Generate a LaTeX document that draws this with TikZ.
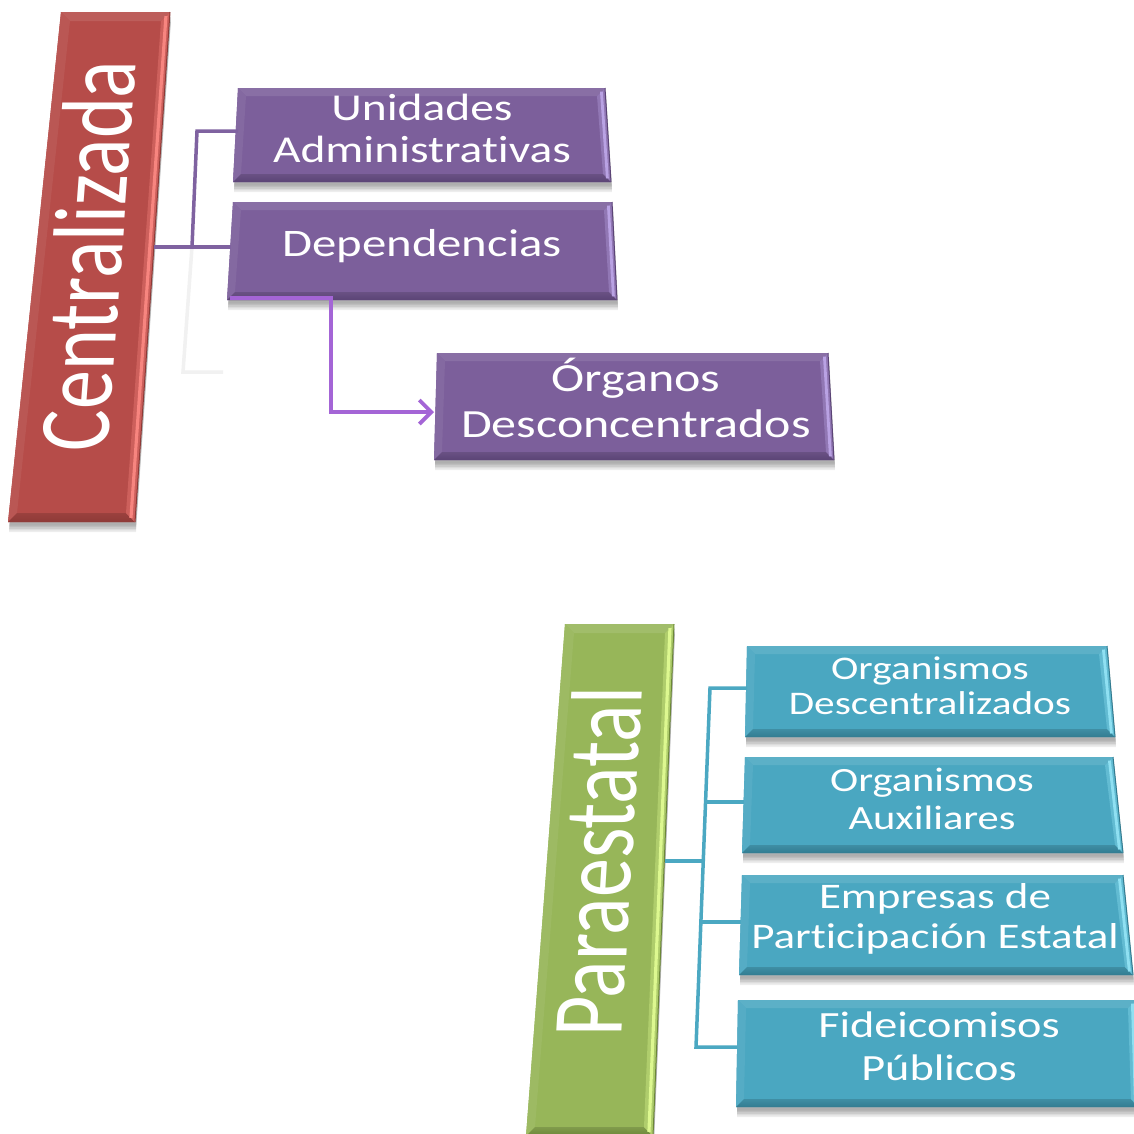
\documentclass[tikz,border=0pt]{standalone}
\usepackage{fontspec}
\usepackage{graphicx}
\setmainfont[Ligatures=NoCommon]{Carlito}
\newfontfamily\widefont[FakeStretch=1.25,Ligatures=NoCommon]{Carlito}
\usetikzlibrary{calc,arrows.meta}
\definecolor{redbase}{HTML}{B64C49}
\definecolor{redlight}{HTML}{F7857F}
\definecolor{reddark}{HTML}{8E3A37}
\definecolor{purbase}{HTML}{7C5F9B}
\definecolor{purlight}{HTML}{B9A2E3}
\definecolor{purdark}{HTML}{5B4476}
\definecolor{tealbase}{HTML}{4AA7C1}
\definecolor{teallight}{HTML}{8FE0F2}
\definecolor{tealdark}{HTML}{327C91}
\definecolor{grnbase}{HTML}{97B659}
\definecolor{grnlight}{HTML}{DDF890}
\definecolor{grndark}{HTML}{6C8838}
\definecolor{purline}{HTML}{7F62A0}
\definecolor{arrowcol}{HTML}{A465D6}
\definecolor{tealline}{HTML}{4BA8C2}
\definecolor{ghostcol}{HTML}{F1F1F1}
\newcommand{\bevelbox}[9]{%
 \coordinate (#1tl) at (#2);
 \coordinate (#1tr) at (#3);
 \coordinate (#1br) at (#4);
 \coordinate (#1bl) at (#5);
 \coordinate (#1itl) at ($(#1tl)+(#9,#9)$);
 \coordinate (#1itr) at ($(#1tr)+(-#9,#9)$);
 \coordinate (#1ibr) at ($(#1br)+(-#9,-#9)$);
 \coordinate (#1ibl) at ($(#1bl)+(#9,-#9)$);
 \foreach \k in {1,2,3,4,5}{%
   \fill[black,opacity=0.07] ($(#1tl)+(1,2+1.6*\k)$) -- ($(#1tr)+(1,2+1.6*\k)$) -- ($(#1br)+(1,2+1.6*\k)$) -- ($(#1bl)+(1,2+1.6*\k)$) -- cycle;}
 \fill[#6] (#1tl) -- (#1tr) -- (#1br) -- (#1bl) -- cycle;
 \fill[#6!90!white] (#1tl) -- (#1tr) -- (#1itr) -- (#1itl) -- cycle;
 \fill[#6!94!white] (#1tl) -- (#1itl) -- (#1ibl) -- (#1bl) -- cycle;
 \shade[top color=#6!85!black, bottom color=#8] (#1ibl) -- (#1ibr) -- (#1br) -- (#1bl) -- cycle;
 \fill[#6!65!#7] (#1itr) -- (#1tr) -- (#1br) -- (#1ibr) -- cycle;
 \draw[#7, line width=0.35*#9] ($(#1tr)!0.45!(#1itr)$) -- ($(#1br)!0.45!(#1ibr)$);
 \draw[#8, line width=1] (#1tr) -- (#1br);
}
\tikzset{
  rottext/.style={text=white, inner sep=0pt, anchor=base},
  boxtext/.style={text=white, inner sep=0pt, align=center},
  purconn/.style={draw=purline, line width=3.5pt},
  ghostconn/.style={draw=ghostcol, line width=3.5pt},
  arrowconn/.style={draw=arrowcol, line width=3.8pt, -{Straight Barb[length=12pt,width=24pt]}},
  tealconn/.style={draw=tealline, line width=3.5pt}
}
\begin{document}
\begin{tikzpicture}[x=1pt,y=-1pt, line join=miter]
\useasboundingbox (0,0) rectangle (1134,1133);
\fill[white] (0,0) rectangle (1134,1133);

% connectors (upper group)
\coordinate (cene) at (154,247);
\coordinate (depw) at (231,247);
\coordinate (uniw) at (238,131);
\coordinate (ja) at (197,131);
\coordinate (jb) at (192,247);
\coordinate (gc) at (183,372);
\coordinate (gd) at (223,372);
\draw[ghostconn] (jb) -- (gc) -- (gd);

% boxes upper
\bevelbox{cen}{61,12}{170,12}{135,522}{8,522}{redbase}{redlight}{reddark}{9}
\bevelbox{uni}{238,88}{605,88}{611,182}{233,182}{purbase}{purlight}{purdark}{8}
\bevelbox{dep}{233,202}{612,202}{617,300}{227,300}{purbase}{purlight}{purdark}{8}
\bevelbox{org}{437,353}{828,353}{834,460}{434,460}{purbase}{purlight}{purdark}{8}

\draw[purconn] (cene) -- (depw);
\draw[purconn] (uniw) -- (ja) -- (jb);
\coordinate (aa) at (230,298);
\coordinate (ab) at (331,298);
\coordinate (ac) at (331,412);
\coordinate (orgw) at (434,412);
\draw[arrowconn] (aa) -- (ab) -- (ac) -- (orgw);

% lower group
\bevelbox{par}{565,624}{674,624}{653,1136}{526,1136}{grnbase}{grnlight}{grndark}{9}
\bevelbox{ba}{747,646}{1107,646}{1115,737}{745,737}{tealbase}{teallight}{tealdark}{8}
\bevelbox{bb}{745,757}{1113,757}{1123,853}{742,853}{tealbase}{teallight}{tealdark}{8}
\bevelbox{bc}{742,875}{1123,875}{1133,975}{739,975}{tealbase}{teallight}{tealdark}{8}
\bevelbox{bd}{738,1000}{1136,1000}{1139,1107}{736,1107}{tealbase}{teallight}{tealdark}{8}

\coordinate (pare) at (665,861);
\coordinate (vp) at (703,861);
\coordinate (va) at (710,688);
\coordinate (vb) at (705.6,802);
\coordinate (vc) at (700.9,922);
\coordinate (vd) at (696,1047);
\coordinate (baw) at (747,688);
\coordinate (bbw) at (744,802);
\coordinate (bcw) at (741,922);
\coordinate (bdw) at (737,1047);
\draw[tealconn] (baw) -- (va) -- (vd) -- (bdw);
\draw[tealconn] (vb) -- (bbw);
\draw[tealconn] (vc) -- (bcw);
\draw[tealconn] (pare) -- (vp);

% texts
\node[rottext, xslant=0.075, rotate=90] (centxt) at (122,256) {\scalebox{1}[1.3]{\fontsize{78}{80}\selectfont Centralizada}};
\node[rottext, xslant=0.06, rotate=90] (partxt) at (632,862) {\scalebox{1}[1.3]{\fontsize{78}{80}\selectfont Paraestatal}};
\node[boxtext, font=\widefont\fontsize{38}{42}\selectfont] (unitxt) at (422,128) {Unidades\\Administrativas};
\node[boxtext, font=\widefont\fontsize{39}{42}\selectfont] (deptxt) at (422,246) {Dependencias};
\node[boxtext, font=\widefont\fontsize{40}{46}\selectfont] (orgtxt) at (636,398) {Órganos\\Desconcentrados};
\node[boxtext, font=\widefont\fontsize{33}{35}\selectfont] (batxt) at (930,686) {Organismos\\Descentralizados};
\node[boxtext, font=\widefont\fontsize{34}{38}\selectfont] (bbtxt) at (932,799) {Organismos\\Auxiliares};
\node[boxtext, font=\widefont\fontsize{36}{40}\selectfont] (bctxt) at (935,919) {Empresas de\\Participación Estatal};
\node[boxtext, font=\widefont\fontsize{37}{43}\selectfont] (bdtxt) at (939,1046) {Fideicomisos\\Públicos};
\end{tikzpicture}
\end{document}
